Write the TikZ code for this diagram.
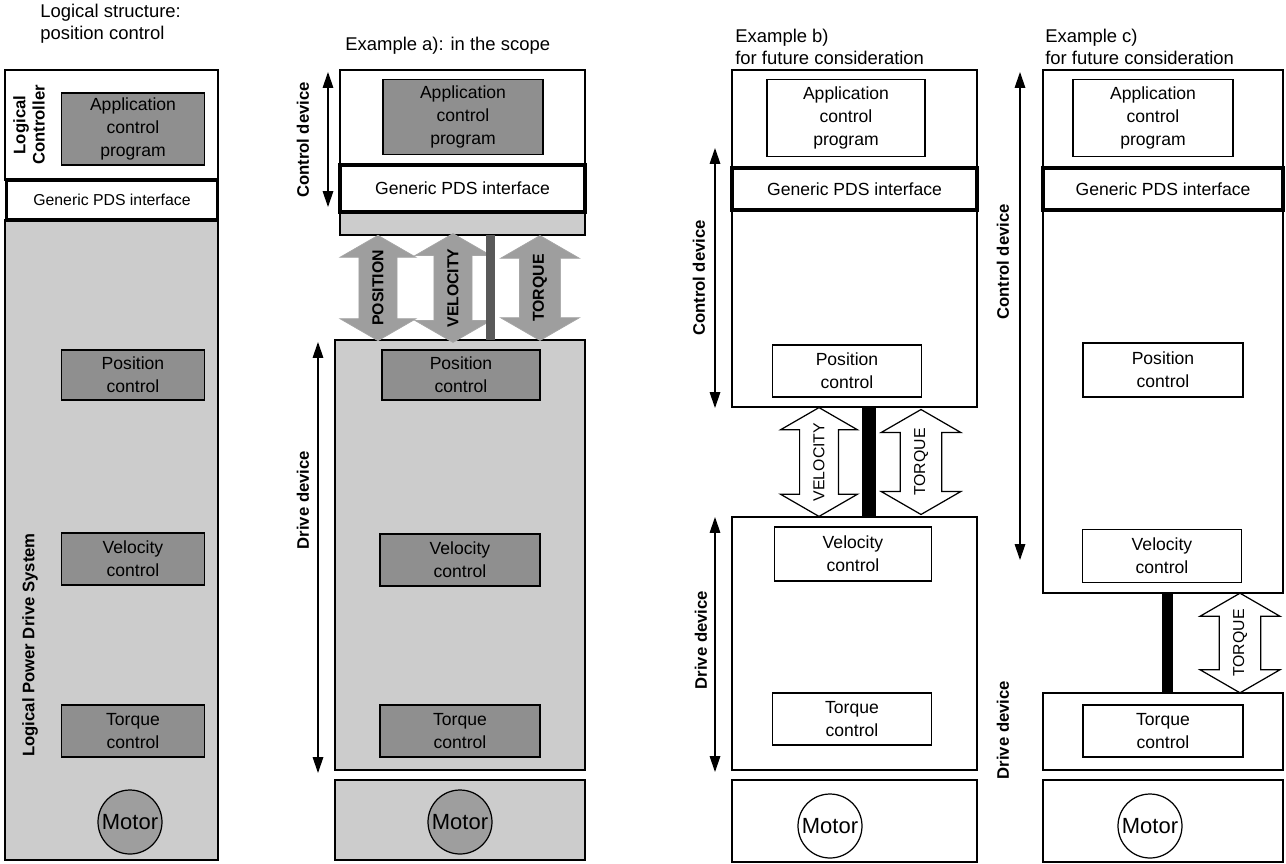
\documentclass[tikz,border=0pt]{standalone}
\usepackage{fontspec}
\setmainfont{Liberation Sans}
\usetikzlibrary{shapes.arrows,arrows.meta}

\definecolor{pdsgrey}{gray}{0.80}
\definecolor{boxgrey}{gray}{0.56}
\definecolor{motorgrey}{gray}{0.62}
\definecolor{arrowgrey}{gray}{0.62}
\definecolor{bargrey}{gray}{0.35}

\tikzset{
  frame/.style={draw, line width=0.7pt},
  pdsband/.style={draw, line width=1.8pt, fill=white, inner sep=0pt, font=\fontsize{10}{12}\selectfont},
  ctrlbox/.style={draw, line width=0.7pt, align=center, inner sep=0pt, font=\fontsize{10}{13}\selectfont},
  darkbox/.style={ctrlbox, fill=boxgrey},
  motor/.style={circle, draw, line width=0.7pt, minimum size=1.28cm, inner sep=0pt, font=\fontsize{12.5}{14}\selectfont},
  sidelabel/.style={rotate=90, align=center, inner sep=0pt, font=\bfseries\fontsize{9.5}{11}\selectfont},
  span/.style={{Triangle[width=6pt,length=9pt]}-{Triangle[width=6pt,length=9pt]}, line width=0.7pt},
  flowarrow/.style={double arrow, rotate=90, double arrow head extend=0.38cm, double arrow tip angle=120,
    minimum height=2.1cm, inner xsep=2pt, inner ysep=7.5pt, font=\fontsize{9}{10}\selectfont},
  greyarrow/.style={flowarrow, fill=arrowgrey, draw=gray!70},
  openarrow/.style={flowarrow, draw, fill=white, line width=0.7pt},
  title/.style={anchor=north west, align=left, inner sep=0pt, font=\fontsize{10.5}{12.5}\selectfont},
  bar/.style={line width=#1}
}

\begin{document}
\begin{tikzpicture}[x=0.02cm, y=-0.02cm]
\useasboundingbox (0,0) rectangle (1286,863);

% titles
\node[title] (ttl) at (40,4) {Logical structure:\\position control};
\node[title] (tta) at (345,37) {Example a): in the scope};
\node[title] (ttb) at (735,29) {Example b)\\for future consideration};
\node[title] (ttc) at (1045,29) {Example c)\\for future consideration};

% logical structure
\draw[frame, fill=white] (5,70) rectangle (218,180);
\draw[frame, fill=pdsgrey] (5,220) rectangle (218,860);
\node[pdsband, minimum width=4.22cm, minimum height=0.8cm, font=\fontsize{9}{11}\selectfont] (lpds) at (112,200) {Generic PDS interface};
\node[darkbox, minimum width=2.86cm, minimum height=1.44cm] (lapp) at (133,129) {Application\\control\\program};
\node[darkbox, minimum width=2.86cm, minimum height=1.0cm] (lpos) at (133,375) {Position\\control};
\node[darkbox, minimum width=2.86cm, minimum height=1.04cm] (lvel) at (133,559) {Velocity\\control};
\node[darkbox, minimum width=2.86cm, minimum height=1.04cm] (ltrq) at (133,731) {Torque\\control};
\node[motor, fill=motorgrey] (lmot) at (130,822) {Motor};
\node[sidelabel] (llc) at (29,125) {Logical\\Controller};
\node[sidelabel] (lpd) at (30,645) {Logical Power Drive System};

% example a)
\draw[frame, fill=white] (340,70) rectangle (585,165);
\draw[frame, fill=pdsgrey] (340,212) rectangle (585,235);
\node[pdsband, minimum width=4.9cm, minimum height=0.94cm] (apds) at (462.5,188.5) {Generic PDS interface};
\node[darkbox, minimum width=3.2cm, minimum height=1.5cm] (aapp) at (463,117) {Application\\control\\program};
\draw[frame, fill=pdsgrey] (335,340) rectangle (585,770);
\draw[frame, fill=pdsgrey] (335,780) rectangle (585,860);
\node[darkbox, minimum width=3.16cm, minimum height=1.0cm] (apos) at (461,375) {Position\\control};
\node[darkbox, minimum width=3.2cm, minimum height=1.04cm] (avel) at (460,560) {Velocity\\control};
\node[darkbox, minimum width=3.2cm, minimum height=1.04cm] (atrq) at (460,731) {Torque\\control};
\node[motor, fill=motorgrey] (amot) at (460,822) {Motor};
\node[greyarrow] (apos-ar) at (378,288) {\textbf{POSITION}};
\node[greyarrow] (avel-ar) at (453,288) {\textbf{VELOCITY}};
\node[greyarrow] (atrq-ar) at (540,288) {\textbf{TORQUE}};
\coordinate (abar1) at (490,235);
\coordinate (abar2) at (490,340);
\draw[bar=0.18cm, bargrey] (abar1) -- (abar2);
\coordinate (actl1) at (328,72);
\coordinate (actl2) at (328,207);
\coordinate (adrv1) at (318,342);
\coordinate (adrv2) at (318,773);
\draw[span] (actl1) -- (actl2);
\draw[span] (adrv1) -- (adrv2);
\node[sidelabel] (actl) at (303,140) {Control device};
\node[sidelabel] (adrv) at (303,500) {Drive device};

% example b)
\draw[frame, fill=white] (732,70) rectangle (977,407);
\node[pdsband, minimum width=4.9cm, minimum height=0.84cm] (bpds) at (854.5,189) {Generic PDS interface};
\node[ctrlbox, minimum width=3.16cm, minimum height=1.54cm] (bapp) at (846,118) {Application\\control\\program};
\node[ctrlbox, minimum width=2.98cm, minimum height=1.04cm] (bpos) at (847,371) {Position\\control};
\draw[frame] (732,517) rectangle (977,770);
\node[ctrlbox, minimum width=3.14cm, minimum height=1.08cm] (bvel) at (853,554) {Velocity\\control};
\node[ctrlbox, minimum width=3.18cm, minimum height=1.04cm] (btrq) at (852,719) {Torque\\control};
\draw[frame] (732,780) rectangle (977,862);
\node[motor] (bmot) at (830,826) {Motor};
\node[openarrow] (bvel-ar) at (819,462) {VELOCITY};
\node[openarrow] (btrq-ar) at (921,462) {TORQUE};
\coordinate (bbar1) at (869,407);
\coordinate (bbar2) at (869,517);
\draw[bar=0.28cm] (bbar1) -- (bbar2);
\coordinate (bctl1) at (715,148);
\coordinate (bctl2) at (715,408);
\coordinate (bdrv1) at (715,517);
\coordinate (bdrv2) at (715,772);
\draw[span] (bctl1) -- (bctl2);
\draw[span] (bdrv1) -- (bdrv2);
\node[sidelabel] (bctl) at (699,278) {Control device};
\node[sidelabel] (bdrv) at (701,640) {Drive device};

% example c)
\draw[frame, fill=white] (1043,70) rectangle (1283,593);
\node[pdsband, minimum width=4.8cm, minimum height=0.84cm] (cpds) at (1163,189) {Generic PDS interface};
\node[ctrlbox, minimum width=3.2cm, minimum height=1.54cm] (capp) at (1153,118) {Application\\control\\program};
\node[ctrlbox, minimum width=3.2cm, minimum height=1.08cm] (cpos) at (1163,370) {Position\\control};
\node[ctrlbox, minimum width=3.18cm, minimum height=1.06cm] (cvel) at (1162,556) {Velocity\\control};
\draw[frame] (1043,693) rectangle (1283,770);
\node[ctrlbox, minimum width=3.2cm, minimum height=1.04cm] (ctrq) at (1163,731) {Torque\\control};
\draw[frame] (1043,780) rectangle (1283,862);
\node[motor] (cmot) at (1150,826) {Motor};
\node[openarrow, minimum height=1.94cm] (ctrq-ar) at (1240,643) {TORQUE};
\coordinate (cbar1) at (1167,593);
\coordinate (cbar2) at (1167,693);
\draw[bar=0.22cm] (cbar1) -- (cbar2);
\coordinate (cctl1) at (1020,72);
\coordinate (cctl2) at (1020,560);
\draw[span] (cctl1) -- (cctl2);
\node[sidelabel] (cctl) at (1003,262) {Control device};
\node[sidelabel] (cdrv) at (1003,730) {Drive device};
\end{tikzpicture}
\end{document}
